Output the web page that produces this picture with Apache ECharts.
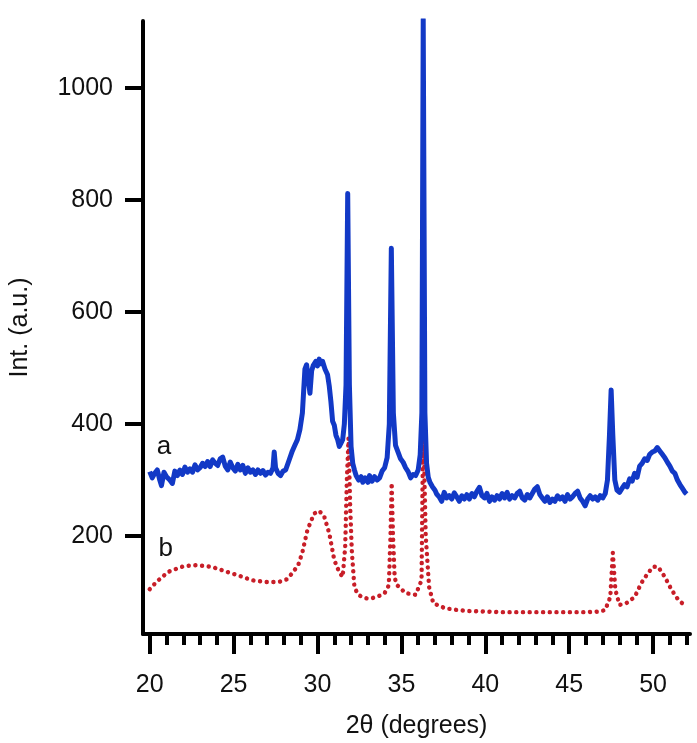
<!DOCTYPE html>
<html>
<head>
    <meta charset="UTF-8">
    <title>XRD</title>
    <script src="https://cdn.jsdelivr.net/npm/echarts@6/dist/echarts.min.js"></script>
    <style>
        html, body { margin: 0; padding: 0; background: #fff; }
        #chart { width: 697px; height: 743px; }
    </style>
</head>
<body>
<div id="chart"></div>
<script type="text/javascript">
    // curve a (blue, solid) : [2theta, intensity]
    var curveA = [
        [20.0, 315], [20.15, 304], [20.3, 312], [20.45, 318], [20.6, 300], [20.7, 290], [20.85, 314],
        [21.0, 306], [21.2, 300], [21.35, 294], [21.5, 316], [21.65, 308], [21.8, 318], [21.95, 310],
        [22.1, 323], [22.25, 314], [22.4, 320], [22.55, 314], [22.7, 327], [22.85, 318], [23.0, 322],
        [23.15, 330], [23.3, 324], [23.45, 333], [23.6, 324], [23.75, 336], [23.9, 330], [24.05, 326],
        [24.2, 338], [24.35, 341], [24.5, 325], [24.65, 318], [24.8, 332], [24.95, 322], [25.1, 316],
        [25.25, 328], [25.4, 318], [25.55, 326], [25.7, 312], [25.85, 322], [26.0, 314], [26.15, 318],
        [26.3, 310], [26.45, 318], [26.6, 312], [26.75, 317], [26.9, 309], [27.05, 314], [27.2, 312],
        [27.35, 322], [27.42, 350], [27.5, 322], [27.65, 312], [27.8, 308], [27.95, 316], [28.1, 318],
        [28.3, 335], [28.5, 352], [28.65, 362], [28.8, 372], [28.95, 390], [29.1, 420], [29.25, 498],
        [29.35, 506], [29.45, 480], [29.55, 455], [29.65, 495], [29.75, 505], [29.9, 512], [30.0, 504],
        [30.1, 516], [30.2, 508], [30.3, 512], [30.45, 498], [30.6, 488], [30.7, 468], [30.8, 440],
        [30.9, 405], [31.0, 398], [31.1, 380], [31.2, 372], [31.3, 360], [31.4, 366], [31.5, 372],
        [31.6, 400], [31.7, 470], [31.8, 812], [31.9, 470], [32.0, 360], [32.1, 330], [32.2, 318],
        [32.3, 308], [32.45, 300], [32.6, 306], [32.7, 296], [32.85, 304], [33.0, 296], [33.1, 308],
        [33.25, 298], [33.4, 306], [33.55, 300], [33.7, 304], [33.85, 316], [34.0, 322], [34.15, 340],
        [34.28, 400], [34.4, 714], [34.52, 420], [34.65, 362], [34.8, 350], [34.95, 338], [35.1, 332],
        [35.25, 322], [35.4, 315], [35.55, 304], [35.7, 310], [35.85, 308], [36.0, 318], [36.12, 345],
        [36.22, 420], [36.3, 1123], [36.4, 420], [36.5, 330], [36.6, 305], [36.7, 296], [36.85, 288],
        [37.0, 282], [37.1, 275], [37.25, 270], [37.4, 262], [37.55, 278], [37.7, 268], [37.85, 272],
        [38.0, 266], [38.15, 277], [38.3, 270], [38.45, 262], [38.6, 272], [38.75, 266], [38.9, 274],
        [39.05, 266], [39.2, 276], [39.35, 270], [39.5, 280], [39.65, 287], [39.8, 272], [39.95, 268],
        [40.1, 276], [40.25, 262], [40.4, 270], [40.55, 264], [40.7, 272], [40.85, 266], [41.0, 276],
        [41.15, 268], [41.3, 278], [41.45, 266], [41.6, 272], [41.75, 268], [41.9, 276], [42.05, 280],
        [42.2, 268], [42.35, 264], [42.5, 274], [42.65, 268], [42.8, 276], [42.95, 284], [43.1, 288],
        [43.25, 274], [43.4, 268], [43.55, 262], [43.7, 270], [43.85, 260], [44.0, 266], [44.15, 262],
        [44.3, 272], [44.45, 266], [44.6, 270], [44.75, 262], [44.9, 274], [45.05, 266], [45.2, 270],
        [45.35, 276], [45.5, 280], [45.65, 268], [45.8, 262], [45.95, 254], [46.1, 266], [46.25, 272],
        [46.4, 266], [46.55, 270], [46.7, 264], [46.85, 272], [47.0, 268], [47.15, 276], [47.28, 300],
        [47.4, 380], [47.5, 461], [47.6, 380], [47.72, 300], [47.85, 282], [48.0, 278], [48.15, 285],
        [48.3, 292], [48.45, 288], [48.6, 302], [48.75, 298], [48.9, 312], [49.05, 305], [49.2, 325],
        [49.35, 330], [49.5, 338], [49.65, 335], [49.8, 346], [49.95, 350], [50.1, 352], [50.25, 358],
        [50.4, 352], [50.55, 346], [50.7, 340], [50.85, 332], [51.0, 325], [51.15, 316], [51.3, 312],
        [51.45, 300], [51.6, 292], [51.75, 285], [51.9, 278], [52.0, 275]
    ];

    // curve b (red, dotted)
    var curveB = [
        [20.0, 105], [20.4, 118], [21.1, 136], [22.0, 146], [22.8, 148], [23.7, 145], [24.6, 136],
        [25.35, 129], [26.1, 121], [26.95, 118], [27.7, 118], [28.2, 123], [28.5, 134], [28.85, 148],
        [29.1, 171], [29.4, 211], [29.8, 240], [30.1, 245], [30.4, 235], [30.7, 205], [31.0, 157],
        [31.3, 135], [31.5, 127], [31.65, 180], [31.75, 300], [31.85, 375], [31.95, 250], [32.05, 170],
        [32.2, 109], [32.4, 96], [32.65, 91], [33.0, 88], [33.25, 89], [33.6, 92], [34.0, 98],
        [34.25, 112], [34.35, 200], [34.42, 295], [34.5, 200], [34.6, 125], [34.75, 112], [35.25, 98],
        [35.85, 95], [36.2, 121], [36.3, 405], [36.45, 200], [36.65, 109], [36.9, 80], [37.6, 71],
        [38.3, 68], [39.0, 66], [40.0, 65], [41.0, 64], [42.0, 64], [43.0, 64], [44.0, 64],
        [45.0, 64], [46.0, 64], [46.8, 65], [47.15, 68], [47.45, 91], [47.6, 170], [47.75, 104],
        [48.0, 77], [48.4, 80], [48.9, 91], [49.3, 116], [49.7, 134], [50.0, 145], [50.3, 145],
        [50.7, 127], [51.1, 104], [51.5, 86], [51.85, 77], [52.0, 74]
    ];

    var xMajorTicks = [20, 25, 30, 35, 40, 45, 50];
    var xMinorTicks = [];
    for (var t = 20; t <= 52; t++) xMinorTicks.push(t);
    var yTicks = [200, 400, 600, 800, 1000];

    // where the curve letters sit, in data units
    var labelA = [20.85, 360];
    var labelB = [20.95, 178];

    var font = "'Liberation Sans', Arial, sans-serif";

    var option = {
        animation: false,
        backgroundColor: '#fff',
        grid: { left: 143, right: 7, top: 21, bottom: 109, containLabel: false, outerBoundsMode: 'none' },
        xAxis: [
            {
                type: 'value',
                min: 19.6,
                max: 52.2,
                position: 'bottom',
                name: '2θ (degrees)',
                nameLocation: 'middle',
                nameGap: 80,
                nameTextStyle: { fontFamily: font, fontSize: 25, color: '#111' },
                axisLine: { show: true, onZero: false, lineStyle: { color: '#000', width: 4 } },
                axisTick: { show: true, length: 20, customValues: xMajorTicks, lineStyle: { color: '#000', width: 4 } },
                axisLabel: { customValues: xMajorTicks, margin: 39, fontFamily: font, fontSize: 25, color: '#111' },
                splitLine: { show: false }
            },
            {
                type: 'value',
                min: 19.6,
                max: 52.2,
                position: 'bottom',
                axisLine: { show: false },
                axisTick: { show: true, length: 11, customValues: xMinorTicks, lineStyle: { color: '#000', width: 4 } },
                axisLabel: { show: false },
                splitLine: { show: false }
            }
        ],
        yAxis: {
            type: 'value',
            min: 25,
            max: 1120,
            name: 'Int. (a.u.)',
            nameLocation: 'middle',
            nameGap: 110,
            nameTextStyle: { fontFamily: font, fontSize: 25, color: '#111' },
            axisLine: { show: true, onZero: false, lineStyle: { color: '#000', width: 4 } },
            axisTick: { show: true, length: 18, customValues: yTicks, lineStyle: { color: '#000', width: 4 } },
            axisLabel: {
                customValues: yTicks, margin: 30, fontFamily: font, fontSize: 25, color: '#111',
                formatter: function (v) { return String(v); }
            },
            splitLine: { show: false }
        },
        series: [
            {
                name: 'b',
                type: 'line',
                xAxisIndex: 0,
                data: curveB,
                showSymbol: false,
                lineStyle: { color: '#c81e28', width: 4.4, type: [0.1, 6.6], cap: 'round' },
                markPoint: {
                    symbolSize: 0,
                    label: { show: true, formatter: 'b', fontFamily: font, fontSize: 26, color: '#111' },
                    data: [{ coord: labelB }]
                },
                z: 2
            },
            {
                name: 'a',
                type: 'line',
                xAxisIndex: 0,
                data: curveA,
                showSymbol: false,
                lineStyle: { color: '#1239c6', width: 5, join: 'round' },
                markPoint: {
                    symbolSize: 0,
                    label: { show: true, formatter: 'a', fontFamily: font, fontSize: 26, color: '#111' },
                    data: [{ coord: labelA }]
                },
                z: 3
            }
        ]
    };

    var myChart = echarts.init(document.getElementById('chart'));
    myChart.setOption(option);
</script>
</body>
</html>
